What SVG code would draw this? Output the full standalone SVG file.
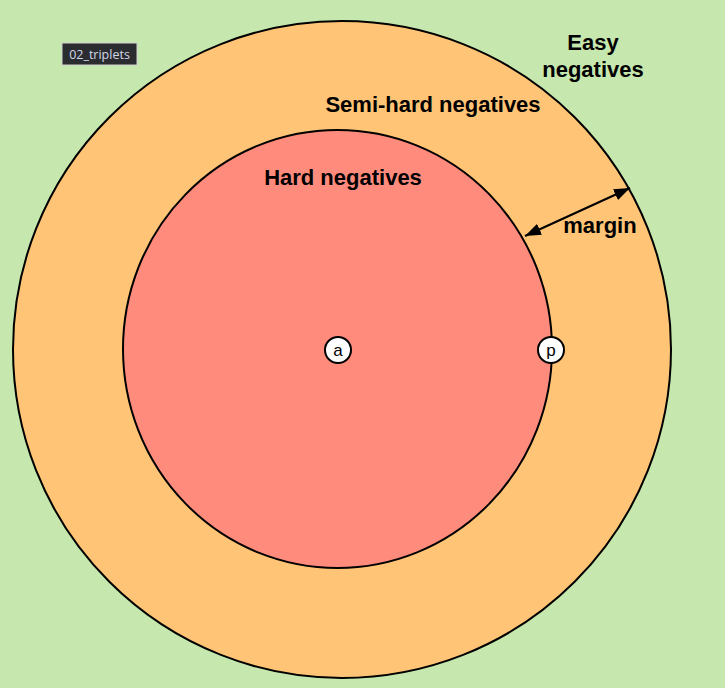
<svg xmlns="http://www.w3.org/2000/svg" width="725" height="688" viewBox="0 0 725 688">
<style>
.lbl{font-family:"Liberation Sans",Arial,sans-serif;font-weight:bold;font-size:22px;fill:#000;text-anchor:middle}
.pt{fill:#fff;stroke:#000;stroke-width:2}
.ptt{font-family:"Liberation Sans",Arial,sans-serif;font-size:17px;fill:#000;text-anchor:middle}
</style>
<defs>
<marker id="arr" viewBox="0 0 16 12" refX="16" refY="6" markerWidth="16" markerHeight="12" orient="auto-start-reverse" markerUnits="userSpaceOnUse">
<path d="M0,0 L16,6 L0,12 z" fill="#000"/>
</marker>
</defs>
<rect width="725" height="688" fill="#c6e8ae"/>
<g id="easy">
<ellipse cx="342" cy="349.5" rx="329" ry="328.5" fill="#ffc475" stroke="#000" stroke-width="2"/>
<text class="lbl" x="593" y="50">Easy</text>
<text class="lbl" x="593" y="77">negatives</text>
</g>
<g id="semihard">
<text class="lbl" x="433" y="112">Semi-hard negatives</text>
</g>
<g id="hard">
<ellipse cx="337.5" cy="349" rx="214.5" ry="219" fill="#ff8b7c" stroke="#000" stroke-width="2"/>
<text class="lbl" x="343" y="185">Hard negatives</text>
</g>
<g id="connectors">
<line x1="525" y1="236" x2="630" y2="188" stroke="#000" stroke-width="2" marker-start="url(#arr)" marker-end="url(#arr)"/>
<text class="lbl" x="600" y="233">margin</text>
</g>
<g id="a">
<circle class="pt" cx="338" cy="350" r="13"/>
<text class="ptt" x="338" y="356">a</text>
</g>
<g id="p">
<circle class="pt" cx="551" cy="350" r="13"/>
<text class="ptt" x="551" y="356">p</text>
</g>
<g id="tag">
<rect x="62" y="43" width="75" height="22" fill="#2b2c30" stroke="#d0d0d0" stroke-width="1"/>
<text x="99.5" y="59" font-family="'Open Sans','Liberation Sans',sans-serif" font-size="12.5" fill="#d0d8e8" text-anchor="middle">02_triplets</text>
</g>
</svg>
